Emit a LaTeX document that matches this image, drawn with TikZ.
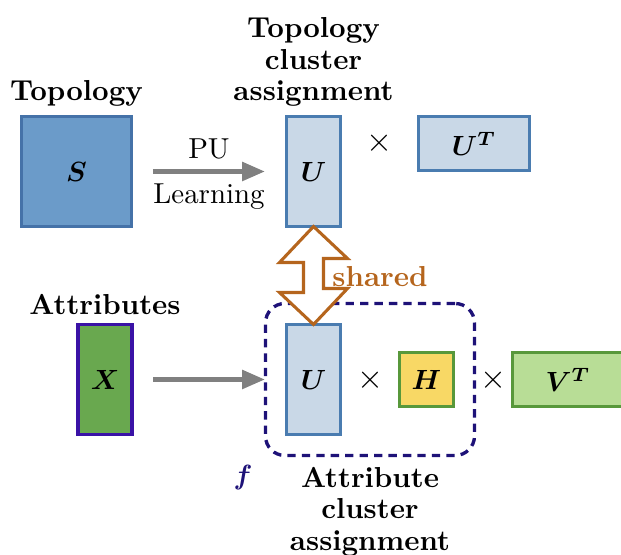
\documentclass[tikz,border=0pt]{standalone}
\usepackage{amsmath,bm}
\usetikzlibrary{arrows.meta,fit}
\definecolor{topofill}{HTML}{6B9BC9}
\definecolor{topoline}{HTML}{4572A8}
\definecolor{ufill}{HTML}{C9D8E7}
\definecolor{uline}{HTML}{4A7CB0}
\definecolor{xfill}{HTML}{69A84F}
\definecolor{xline}{HTML}{3A12A6}
\definecolor{hfill}{HTML}{F8D865}
\definecolor{gline}{HTML}{58983B}
\definecolor{vfill}{HTML}{B8DD96}
\definecolor{shareorange}{HTML}{B5651D}
\definecolor{fnavy}{HTML}{1E1278}
\begin{document}
\begin{tikzpicture}[x=0.36pt,y=-0.36pt,line join=miter,font=\fontsize{10.4pt}{11.4pt}\selectfont,
 mat/.style={draw,line width=1.4pt,inner sep=0pt,outer sep=0pt},
 flow/.style={draw=gray,line width=1.9pt,-{Triangle[length=8.3pt,width=6.5pt]},shorten <=7.7pt,shorten >=7.7pt},
 caption/.style={font=\fontsize{10.4pt}{11.4pt}\selectfont\bfseries,align=center},
 times/.style={font=\fontsize{12pt}{14pt}\selectfont}]
 \def\px{0.36pt}
 \useasboundingbox (0,0) rectangle (621,555);
 \clip (0,0) rectangle (621,555);
 % topology row
 \node[mat,fill=topofill,draw=topoline,minimum width=110*\px,minimum height=110*\px] (S) at (76.5,171.5) {$\bm{S}$};
 \node[mat,fill=ufill,draw=uline,minimum width=54*\px,minimum height=110*\px] (Ut) at (313.5,171.5) {$\bm{U}$};
 \node[mat,fill=ufill,draw=uline,minimum width=111*\px,minimum height=54*\px] (UT) at (474,143.5) {$\bm{U^T}$};
 \node[times] (tx1) at (379,143) {$\times$};
 \node[caption,above] (lS) at (S.north) {Topology};
 \node[caption,above] (lUt) at (Ut.north) {Topology\\cluster\\assignment};
 \draw[flow] (S.east) -- node[above] (pu) {PU} node[below] (lrn) {Learning} (Ut.west);
 % attribute row
 \node[mat,fill=xfill,draw=xline,minimum width=54*\px,minimum height=110*\px] (X) at (105,379.5) {$\bm{X}$};
 \node[mat,fill=ufill,draw=uline,minimum width=54*\px,minimum height=110*\px] (Ub) at (313.5,379.5) {$\bm{U}$};
 \node[mat,fill=hfill,draw=gline,minimum width=54*\px,minimum height=54*\px] (H) at (426.5,379.5) {$\bm{H}$};
 \node[mat,fill=vfill,draw=gline,minimum width=111*\px,minimum height=54*\px] (V) at (568,379.5) {$\bm{V^T}$};
 \node[times] (tx2) at (370,380) {$\times$};
 \node[times] (tx3) at (493,380) {$\times$};
 \node[caption,above] (lX) at (X.north) {Attributes};
 \draw[flow] (X.east) -- (Ub.west);
 % encoder f
 \node[fit=(Ub)(H),inner sep=21*\px,draw=fnavy,line width=1.2pt,dash pattern=on 3pt off 2.2pt,rounded corners=7pt] (f) {};
 \node[text=fnavy] (lf) at (243,478) {$\bm{f}$};
 \node[caption,below] (lUb) at (f.south) {Attribute\\cluster\\assignment};
 % shared U
 \draw[draw=shareorange,fill=white,line width=1.1pt] (Ut.south) -- ++(34,32) -- ++(-24,0) -- ++(0,30)
  -- ++(24,0) -- (Ub.north) -- ++(-34,-32) -- ++(24,0) -- ++(0,-30) -- ++(-24,0) -- cycle;
 \node[text=shareorange,font=\fontsize{10.4pt}{11.4pt}\selectfont\bfseries] (sh) at (380,277) {shared};
\end{tikzpicture}
\end{document}
